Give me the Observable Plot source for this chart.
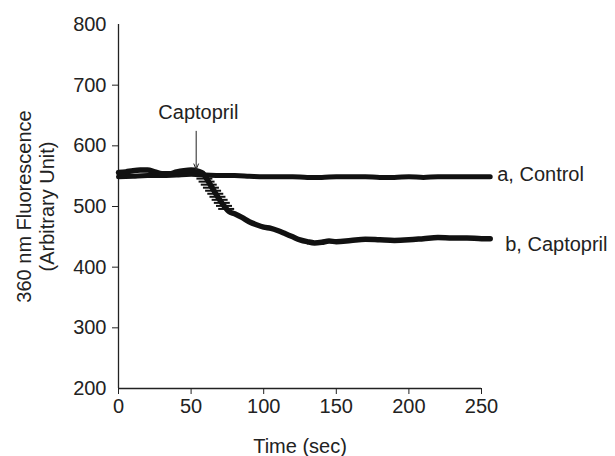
<!DOCTYPE html>
<html><head><meta charset="utf-8">
<script src="https://cdn.jsdelivr.net/npm/d3@7"></script>
<script src="https://cdn.jsdelivr.net/npm/@observablehq/plot@0.6"></script>
<style>body{margin:0;background:#fff}</style>
</head><body><div id="chart"></div>
<script>
// ---- data ----
const controlTime  = [0,10,20,30,40,50,60,70,80,90,100,110,120,130,140,150,160,170,180,190,200,210,220,230,240,256];
const controlValue = [549,550,551,551,552,553,552,551,551,550,549,549,549,548,548,549,549,549,548,548,549,548,549,549,549,549];

const captoTime  = [0,5,10,15,20,25,30,35,40,45,50,55,58,61,64,67,70,73,76,80,85,90,95,100,105,110,115,120,125,130,135,140,145,150,160,170,180,190,200,210,220,230,240,250,256];
const captoValue = [556,557,559,560,560,557,554,554,557,559,560,558,555,545,533,521,510,500,492,488,482,475,470,466,464,460,455,450,445,442,440,441,443,442,444,446,445,444,445,447,449,448,448,447,447];

// error-bar dashes during the drop
const dashTime  = [59.5,61,62.5,64,65.5,67,68.5,70,71.5,73,74.5];
const dashValue = [546,541,536,531,526,521,516,511,506,501,496];

const xTicks = [0,50,100,150,200,250];
const yTicks = [200,300,400,500,600,700,800];
const yTickMarks = [300,400,500,600,700];

const seriesNames = ["a, Control","b, Captopril"];
const annotationText = "Captopril";
const annotationTime = 55;
const annotationValue = 655;
const arrowStart = 624;
const arrowEnd = 561;

const xLabel = "Time (sec)";
const yLabel = "360 nm Fluorescence\n(Arbitrary Unit)";

// ---- tables ----
const control = controlTime.map((t,i)=>({t, v: controlValue[i]}));
const capto = captoTime.map((t,i)=>({t, v: captoValue[i]}));
const dashes = dashTime.map((t,i)=>({t, v: dashValue[i]}));
const endA = [{...control[control.length-1], name: seriesNames[0]}];
const endB = [{...capto[capto.length-1], name: seriesNames[1]}];
const half = 5.5;

const chart = Plot.plot({
  width: 615,
  height: 456,
  marginLeft: 118,
  marginRight: 134,
  marginTop: 24,
  marginBottom: 68,
  style: {fontFamily: "'Liberation Sans', Arial, sans-serif", fontSize: "20px", color: "#222", background: "#fff"},
  x: {domain: [0,250]},
  y: {domain: [200,800]},
  marks: [
    Plot.ruleX([0], {y1: 200, y2: 800, stroke: "#222", strokeWidth: 1.3}),
    Plot.ruleY([200], {x1: 0, x2: 250, stroke: "#222", strokeWidth: 1.3}),
    Plot.axisX({ticks: xTicks, tickSize: 6, tickPadding: 4, label: null, fontSize: 20, stroke: "#222"}),
    Plot.axisY({ticks: yTicks, tickSize: 0, tickPadding: 12, label: null, fontSize: 20}),
    Plot.axisY({ticks: yTickMarks, tickSize: 6, tickFormat: () => "", label: null, stroke: "#222"}),
    Plot.line(control, {x: "t", y: "v", stroke: "#111", strokeWidth: 5, curve: "monotone-x"}),
    Plot.line(capto, {x: "t", y: "v", stroke: "#111", strokeWidth: 5.5, curve: "monotone-x"}),
    Plot.ruleY(dashes, {y: "v", x1: d => d.t - half, x2: d => d.t + half, stroke: "#111", strokeWidth: 2}),
    Plot.text(endA, {x: "t", y: "v", text: "name", textAnchor: "start", dx: 7, dy: -2, fontSize: 20, fill: "#222"}),
    Plot.text(endB, {x: "t", y: "v", text: "name", textAnchor: "start", dx: 15, dy: 6, fontSize: 20, fill: "#222"}),
    Plot.text([annotationText], {x: annotationTime, y: annotationValue, fontSize: 20, fill: "#222"}),
    Plot.arrow([0], {x1: annotationTime - 1.5, x2: annotationTime - 1.5, y1: arrowStart, y2: arrowEnd, stroke: "#222", strokeWidth: 1, headLength: 9, headAngle: 45}),
    Plot.text([xLabel], {frameAnchor: "bottom", lineAnchor: "middle", dy: 58, fontSize: 20, fill: "#222"}),
    Plot.text([yLabel], {frameAnchor: "left", textAnchor: "middle", lineAnchor: "middle", dx: -83, rotate: -90, lineHeight: 1.15, fontSize: 20, fill: "#222"})
  ]
});
document.getElementById("chart").appendChild(chart);
</script>
</body></html>
